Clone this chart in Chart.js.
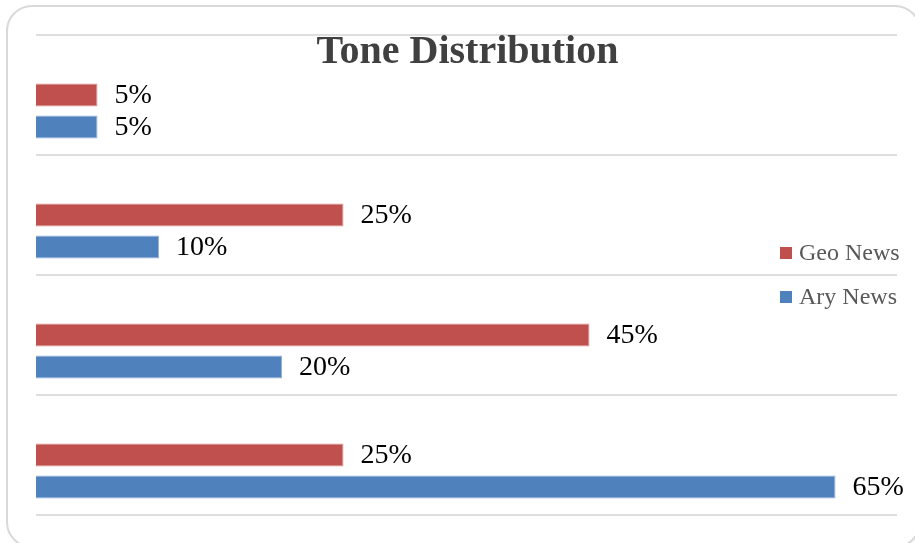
<!DOCTYPE html>
<html>
<head>
<meta charset="utf-8">
<title>Tone Distribution</title>
<script src="https://cdn.jsdelivr.net/npm/chart.js@4.4.1/dist/chart.umd.min.js"></script>
<style>
  html, body { margin: 0; padding: 0; background: #fff; overflow: hidden; }
  #wrap { position: relative; width: 915px; height: 543px; overflow: hidden; }
  #frame {
    position: absolute; left: 6px; top: 5px; width: 915px; height: 543px;
    border: 2px solid #d9d9d9; border-radius: 26px; box-sizing: border-box;
  }
  canvas { position: absolute; left: 0; top: 0; }
</style>
</head>
<body>
<div id="wrap">
  <div id="frame"></div>
  <canvas id="myChart" width="915" height="543"></canvas>
</div>
<script>
// data
let categories = ['1', '2', '3', '4'];
let geoNews = [5, 25, 45, 25];
let aryNews = [5, 10, 20, 65];
let seriesNames = ['Geo News', 'Ary News'];
let chartTitle = 'Tone Distribution';

const red = '#C0504D';
const blue = '#4F81BD';

// bars sit a bit below the middle of each band, so an empty slot goes first
const datasets = [
  { label: 'spacer', data: [], backgroundColor: 'rgba(0,0,0,0)' },
  { label: seriesNames[0], data: geoNews, backgroundColor: red, borderColor: '#dc9593', borderWidth: 1 },
  { label: seriesNames[1], data: aryNews, backgroundColor: blue, borderColor: '#93b1d9', borderWidth: 1 }
];

// labels, title and legend drawn on top of the plot
const extras = {
  id: 'extras',
  afterDatasetsDraw(chart) {
    const ctx = chart.ctx;
    const area = chart.chartArea;
    ctx.save();

    // value labels
    ctx.font = '28px "Liberation Serif"';
    ctx.fillStyle = '#000';
    ctx.textBaseline = 'middle';
    ctx.textAlign = 'left';
    for (let d = 1; d < chart.data.datasets.length; d++) {
      let meta = chart.getDatasetMeta(d);
      meta.data.forEach(function (bar, i) {
        ctx.fillText(chart.data.datasets[d].data[i] + '%', bar.x + 17, bar.y + 1);
      });
    }

    // title
    ctx.font = 'bold 40px "Liberation Serif"';
    ctx.fillStyle = '#404040';
    ctx.textAlign = 'center';
    ctx.textBaseline = 'alphabetic';
    ctx.fillText(chartTitle, (area.left + area.right) / 2 + 1, area.top + 28);

    // legend
    ctx.font = '24px "Liberation Serif"';
    ctx.textAlign = 'left';
    ctx.textBaseline = 'middle';
    for (let d = 1; d < chart.data.datasets.length; d++) {
      let y = 253 + (d - 1) * 44;
      ctx.fillStyle = chart.data.datasets[d].backgroundColor;
      ctx.fillRect(780, y - 6, 12, 12);
      ctx.fillStyle = '#595959';
      ctx.fillText(chart.data.datasets[d].label, 799, y + 1);
    }
    ctx.restore();
  }
};

const config = {
  type: 'bar',
  data: {
    labels: categories,
    datasets: datasets
  },
  options: {
    indexAxis: 'y',
    responsive: false,
    animation: false,
    layout: { padding: { left: 36, right: 18, top: 35, bottom: 28 } },
    datasets: {
      bar: { categoryPercentage: 0.8, barPercentage: 0.72 }
    },
    plugins: {
      legend: { display: false },
      title: { display: false },
      tooltip: { enabled: false }
    },
    scales: {
      x: {
        display: false,
        min: 0,
        max: 70
      },
      y: {
        ticks: { display: false },
        border: { display: false },
        grid: { color: '#dedede', lineWidth: 2, drawTicks: false }
      }
    }
  },
  plugins: [extras]
};

var myChart = new Chart(document.getElementById('myChart'), config);
</script>
</body>
</html>
